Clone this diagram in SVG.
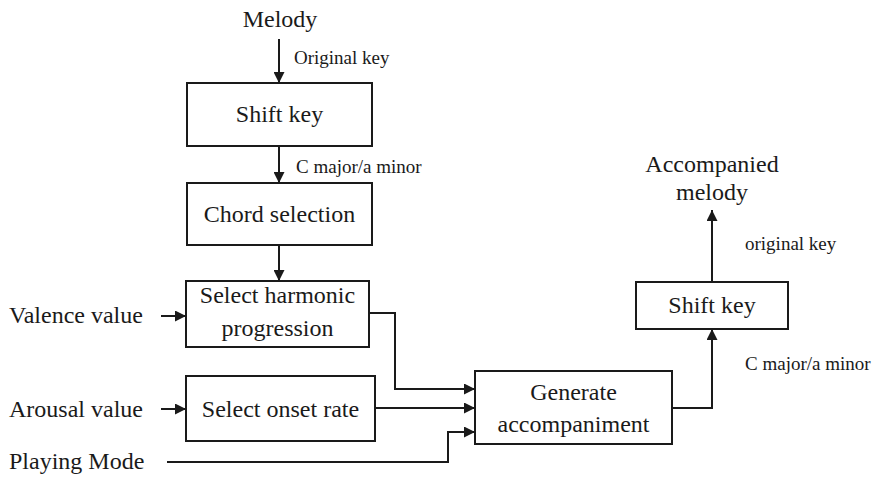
<svg xmlns="http://www.w3.org/2000/svg" width="879" height="479" viewBox="0 0 879 479">
  <style>
    .box { fill: #fff; stroke: #1a1a1a; stroke-width: 2; }
    text { font-family: "Liberation Serif", "DejaVu Serif", serif; fill: #1a1a1a; }
    .lbl { font-size: 24px; }
    .mid { text-anchor: middle; }
    .sm { font-size: 19px; }
    .wire { fill: none; stroke: #1a1a1a; stroke-width: 2; marker-end: url(#arr); }
  </style>
  <defs>
    <marker id="arr" viewBox="0 0 10 10" refX="10" refY="5" markerWidth="11" markerHeight="11" markerUnits="userSpaceOnUse" orient="auto">
      <path d="M0,0 L10,5 L0,10 z" fill="#1a1a1a"/>
    </marker>
  </defs>
  <rect width="879" height="479" fill="#fff"/>

  <!-- inputs and outputs -->
  <g id="melody"><text class="lbl mid" x="280" y="27">Melody</text></g>
  <g id="valence"><text class="lbl" x="9" y="323">Valence value</text></g>
  <g id="arousal"><text class="lbl" x="9" y="417">Arousal value</text></g>
  <g id="playing-mode"><text class="lbl" x="9" y="469">Playing Mode</text></g>
  <g id="accompanied-melody">
    <text class="lbl mid" x="712" y="172">Accompanied</text>
    <text class="lbl mid" x="712" y="200">melody</text>
  </g>

  <!-- processing blocks -->
  <g id="shift-key-in">
    <rect class="box" x="187" y="83" width="185" height="63"/>
    <text class="lbl mid" x="279.5" y="122">Shift key</text>
  </g>
  <g id="chord-selection">
    <rect class="box" x="187" y="183" width="185" height="62"/>
    <text class="lbl mid" x="279.5" y="222">Chord selection</text>
  </g>
  <g id="harmonic-progression">
    <rect class="box" x="186" y="281" width="183" height="66"/>
    <text class="lbl mid" x="277.5" y="303">Select harmonic</text>
    <text class="lbl mid" x="277.5" y="336">progression</text>
  </g>
  <g id="onset-rate">
    <rect class="box" x="186" y="376" width="189" height="65"/>
    <text class="lbl mid" x="280.5" y="417">Select onset rate</text>
  </g>
  <g id="generate">
    <rect class="box" x="475" y="371" width="197" height="73"/>
    <text class="lbl mid" x="573.5" y="400">Generate</text>
    <text class="lbl mid" x="573.5" y="432">accompaniment</text>
  </g>
  <g id="shift-key-out">
    <rect class="box" x="636" y="282" width="152" height="47"/>
    <text class="lbl mid" x="712" y="313">Shift key</text>
  </g>

  <!-- connectors -->
  <g id="connectors">
    <path class="wire" d="M279,39 V83"/>
    <path class="wire" d="M279,146 V183"/>
    <path class="wire" d="M279,245 V281"/>
    <path class="wire" d="M161,316 H186"/>
    <path class="wire" d="M161,409 H186"/>
    <path class="wire" d="M369,313 H395 V389 H475"/>
    <path class="wire" d="M375,408 H475"/>
    <path class="wire" d="M167,462 H448 V432 H475"/>
    <path class="wire" d="M672,408 H712 V329"/>
    <path class="wire" d="M712,282 V210"/>
  </g>

  <!-- connector labels -->
  <g id="connector-labels">
    <text class="sm" x="294" y="64">Original key</text>
    <text class="sm" x="296" y="173">C major/a minor</text>
    <text class="sm" x="745" y="250">original key</text>
    <text class="sm" x="745" y="370">C major/a minor</text>
  </g>
</svg>
